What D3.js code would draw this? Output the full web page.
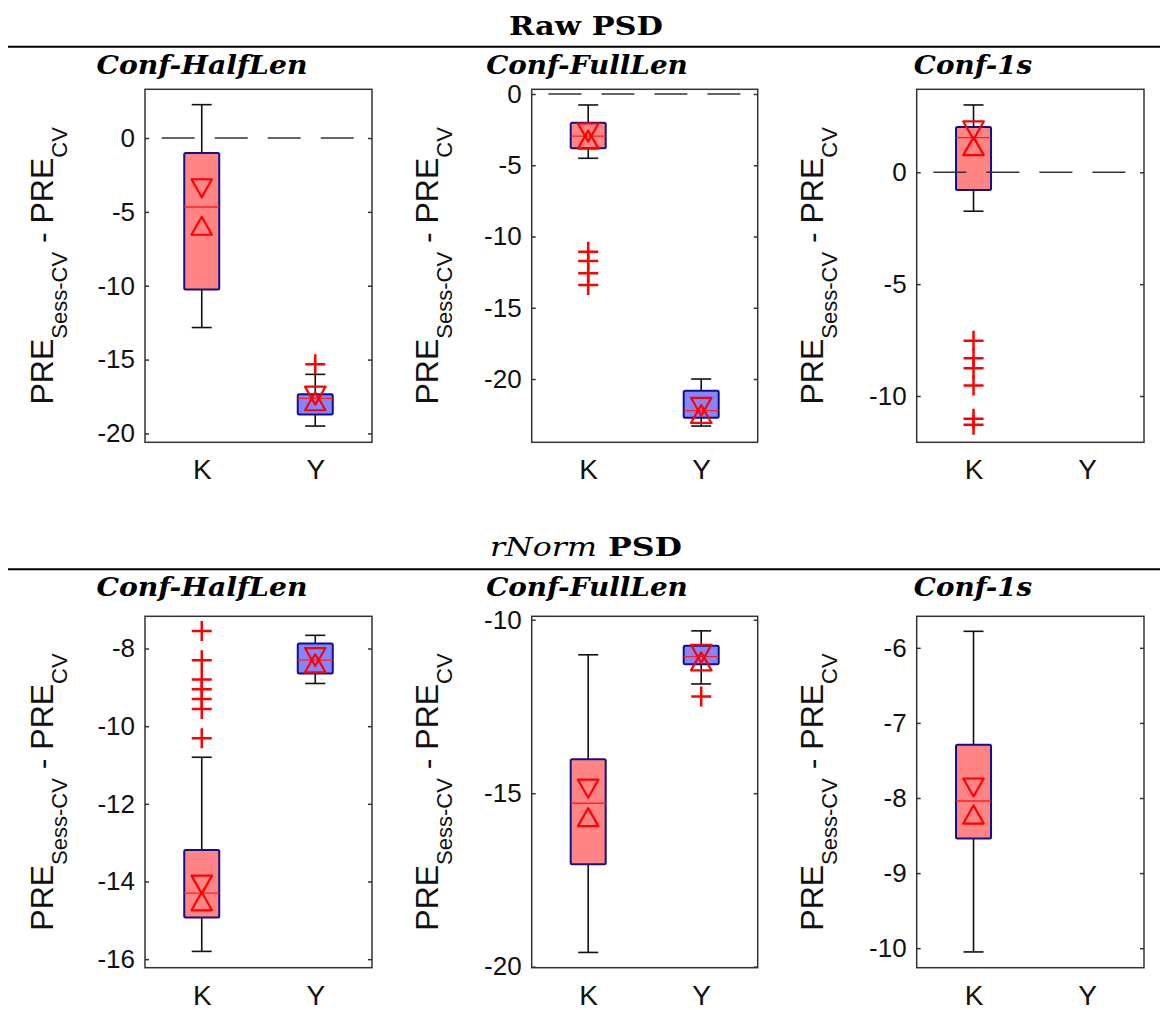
<!DOCTYPE html>
<html>
<head>
<meta charset="utf-8">
<script src="https://cdn.jsdelivr.net/npm/d3@7"></script>
<style>
  html, body { margin: 0; padding: 0; background: #fff; }
  svg { display: block; }
</style>
</head>
<body>
<svg id="chart" width="1160" height="1010"></svg>
<script>
// ---------------- DATA ----------------
const groups = ["K", "Y"];
const rowTitles = ["Raw PSD", "rNorm PSD"];
const panelTitles = ["Conf-HalfLen", "Conf-FullLen", "Conf-1s",
                     "Conf-HalfLen", "Conf-FullLen", "Conf-1s"];
const yDomains = [[-20.6, 3.3], [-24.44, 0.33], [-12.07, 3.71],
                  [-16.22, -7.17], [-20.03, -9.9], [-10.26, -5.58]];
const yTicks = [[-20, -15, -10, -5, 0], [-20, -15, -10, -5, 0], [-10, -5, 0],
                [-16, -14, -12, -10, -8], [-20, -15, -10], [-10, -9, -8, -7, -6]];
const showZeroLine = [true, true, true, false, false, false];

// per panel: [K, Y] (null = no box)
const medians = [[-4.67, -17.63], [-2.95, -22.22], [1.55, null],
                 [-14.30, -8.30], [-15.29, -11.06], [-8.04, null]];
const q3s = [[-1.01, -17.34], [-2.01, -20.82], [2.03, null],
             [-13.19, -7.87], [-14.02, -10.75], [-7.29, null]];
const q1s = [[-10.26, -18.72], [-3.81, -22.72], [-0.79, null],
             [-14.93, -8.64], [-17.05, -11.28], [-8.54, null]];
const whiskerHi = [[2.26, -16.0], [-0.77, -20.0], [3.01, null],
                   [-10.80, -7.66], [-11.01, -10.32], [-5.78, null]];
const whiskerLo = [[-12.83, -19.5], [-4.51, -23.3], [-1.74, null],
                   [-15.80, -8.90], [-19.59, -11.85], [-10.05, null]];
const notchHi = [[-3.40, -17.44], [-2.70, -21.95], [1.87, null],
                 [-14.08, -8.22], [-14.87, -10.98], [-7.86, null]];
const notchLo = [[-5.94, -17.82], [-3.20, -22.45], [1.17, null],
                 [-14.51, -8.38], [-15.69, -11.20], [-8.22, null]];
const outliers = [[[], [-15.31]],
                  [[-11.07, -11.72, -12.58, -13.40], []],
                  [[-7.53, -8.31, -8.76, -9.53, -11.02, -11.29], []],
                  [[-7.55, -8.30, -8.80, -9.05, -9.30, -9.56, -10.31], []],
                  [[], [-12.21]],
                  [[], []]];

// ---------------- LAYOUT ----------------
const svg = d3.select("#chart");
const colLeft = [145, 531.7, 916.7];
const colWidth = [227, 226, 227.3];
const rowTop = [89.3, 616.3];
const rowBottom = [442.3, 967.7];
const titleCenters = [202, 587, 973];
const fillColors = ["#ff8585", "#8585ff"];
const boxW = 35, capW = 20, triW = 20.5, triH = 18, plusS = 10;

// row titles and rules
const ruleY = [46.7, 569.3];
const rowTitleY = [35, 556];
rowTitles.forEach((t, r) => {
  svg.append("line").attr("x1", 8).attr("x2", 1160)
    .attr("y1", ruleY[r]).attr("y2", ruleY[r])
    .attr("stroke", "#000").attr("stroke-width", 2);
  const tx = svg.append("text").attr("x", 586).attr("y", rowTitleY[r])
    .attr("text-anchor", "middle")
    .attr("font-family", "DejaVu Serif, serif").attr("font-size", 26);
  if (r === 0) {
    tx.attr("font-weight", "bold").attr("textLength", 154)
      .attr("lengthAdjust", "spacingAndGlyphs").text(t);
  } else {
    const parts = t.split(" ");
    tx.attr("textLength", 192).attr("lengthAdjust", "spacingAndGlyphs");
    tx.append("tspan").attr("font-style", "italic").text(parts[0]);
    tx.append("tspan").attr("font-weight", "bold").text(" " + parts[1]);
  }
});

const titleWidths = { "Conf-HalfLen": 211, "Conf-FullLen": 201.7, "Conf-1s": 118.4 };

panelTitles.forEach((title, p) => {
  const r = Math.floor(p / 3), c = p % 3;
  const left = colLeft[c], width = colWidth[c];
  const top = rowTop[r], bottom = rowBottom[r];

  const x = d3.scaleLinear().domain([0.5, 2.5]).range([left, left + width]);
  const y = d3.scaleLinear().domain(yDomains[p]).range([bottom, top]);
  const g = svg.append("g");

  // panel title
  svg.append("text").attr("x", titleCenters[c]).attr("y", r === 0 ? 74 : 596)
    .attr("text-anchor", "middle")
    .attr("font-family", "DejaVu Serif, serif").attr("font-weight", "bold")
    .attr("font-style", "italic").attr("font-size", 26)
    .attr("textLength", titleWidths[title]).attr("lengthAdjust", "spacingAndGlyphs")
    .text(title);

  // frame
  g.append("rect").attr("x", left).attr("y", top).attr("width", width)
    .attr("height", bottom - top).attr("fill", "none")
    .attr("stroke", "#333").attr("stroke-width", 1.5);

  // y axis left (tick labels) & right ticks
  const axL = d3.axisLeft(y).tickValues(yTicks[p]).tickSize(-4).tickPadding(10)
    .tickFormat(d3.format("d"));
  const gl = g.append("g").attr("transform", `translate(${left},0)`).call(axL);
  gl.select(".domain").remove();
  gl.selectAll(".tick line").attr("stroke", "#333").attr("stroke-width", 1.5);
  gl.selectAll(".tick text").attr("font-family", "Liberation Sans, Arial, sans-serif")
    .attr("font-size", 26).attr("fill", "#111")
    .text(d => d < 0 ? "-" + Math.abs(d) : String(d));
  const axR = d3.axisRight(y).tickValues(yTicks[p]).tickSize(-4).tickFormat("");
  const gr = g.append("g").attr("transform", `translate(${left + width},0)`).call(axR);
  gr.select(".domain").remove();
  gr.selectAll(".tick line").attr("stroke", "#333").attr("stroke-width", 1.5);

  // x labels
  const axB = d3.axisBottom(x).tickValues([1, 2]).tickSize(0).tickPadding(17)
    .tickFormat(d => groups[d - 1]);
  const gb = g.append("g").attr("transform", `translate(0,${bottom})`).call(axB);
  gb.select(".domain").remove();
  gb.selectAll(".tick text").attr("font-family", "Liberation Sans, Arial, sans-serif")
    .attr("font-size", 28).attr("fill", "#111");

  // y label
  const labX = [53, 438, 823][c];
  const labY = (top + bottom) / 2;
  const lab = svg.append("text")
    .attr("transform", `translate(${labX},${labY}) rotate(-90)`)
    .attr("text-anchor", "middle")
    .attr("font-family", "Liberation Sans, Arial, sans-serif")
    .attr("font-size", 32).attr("fill", "#111");
  lab.append("tspan").text("PRE");
  lab.append("tspan").attr("font-size", 22).attr("dy", 14).text("Sess-CV");
  lab.append("tspan").attr("dy", -14).text(" - PRE");
  lab.append("tspan").attr("font-size", 22).attr("dy", 14).text("CV");

  // boxes
  groups.forEach((grp, i) => {
    if (medians[p][i] === null) return;
    const cx = x(i + 1);
    // whiskers
    g.append("line").attr("x1", cx).attr("x2", cx)
      .attr("y1", y(q3s[p][i])).attr("y2", y(whiskerHi[p][i]))
      .attr("stroke", "#111").attr("stroke-width", 1.6);
    g.append("line").attr("x1", cx).attr("x2", cx)
      .attr("y1", y(q1s[p][i])).attr("y2", y(whiskerLo[p][i]))
      .attr("stroke", "#111").attr("stroke-width", 1.6);
    [whiskerHi[p][i], whiskerLo[p][i]].forEach(v => {
      g.append("line").attr("x1", cx - capW / 2).attr("x2", cx + capW / 2)
        .attr("y1", y(v)).attr("y2", y(v))
        .attr("stroke", "#111").attr("stroke-width", 1.6);
    });
    // box
    g.append("rect").attr("x", cx - boxW / 2).attr("y", y(q3s[p][i]))
      .attr("width", boxW).attr("height", y(q1s[p][i]) - y(q3s[p][i]))
      .attr("fill", fillColors[i]).attr("stroke", "#10108a")
      .attr("stroke-width", 2).attr("stroke-linejoin", "round")
      .attr("rx", 1.5);
    // median
    g.append("line").attr("x1", cx - boxW / 2).attr("x2", cx + boxW / 2)
      .attr("y1", y(medians[p][i])).attr("y2", y(medians[p][i]))
      .attr("stroke", "#ff2020").attr("stroke-width", 1.3);
    // notch markers
    const nh = y(notchHi[p][i]), nl = y(notchLo[p][i]);
    g.append("path")
      .attr("d", `M${cx - triW / 2},${nh - triH / 2}L${cx + triW / 2},${nh - triH / 2}L${cx},${nh + triH / 2}Z`)
      .attr("fill", "none").attr("stroke", "#ff0000").attr("stroke-width", 2.2)
      .attr("stroke-linejoin", "round");
    g.append("path")
      .attr("d", `M${cx - triW / 2},${nl + triH / 2}L${cx + triW / 2},${nl + triH / 2}L${cx},${nl - triH / 2}Z`)
      .attr("fill", "none").attr("stroke", "#ff0000").attr("stroke-width", 2.2)
      .attr("stroke-linejoin", "round");
    // outliers
    outliers[p][i].forEach(v => {
      const oy = y(v);
      g.append("path")
        .attr("d", `M${cx - plusS},${oy}H${cx + plusS}M${cx},${oy - plusS}V${oy + plusS}`)
        .attr("stroke", "#ff0000").attr("stroke-width", 2.5).attr("fill", "none");
    });
  });

  // zero dashed line (on top)
  if (showZeroLine[p]) {
    g.append("line").attr("x1", left).attr("x2", left + width)
      .attr("y1", y(0)).attr("y2", y(0))
      .attr("stroke", "#333").attr("stroke-width", 1.5)
      .attr("stroke-dasharray", "33,20").attr("stroke-dashoffset", 36.3);
  }
});
</script>
</body>
</html>
